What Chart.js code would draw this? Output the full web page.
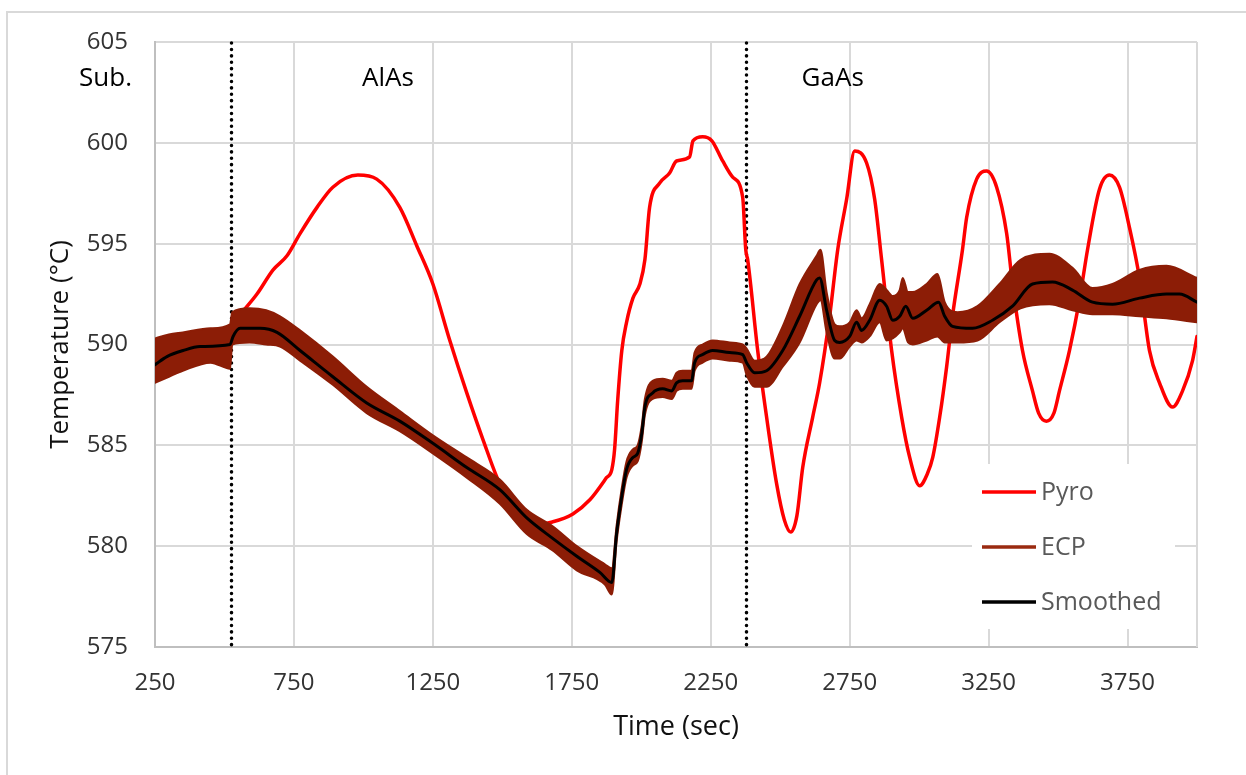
<!DOCTYPE html>
<html>
<head>
<meta charset="utf-8">
<title>Temperature vs time</title>
<script src="https://cdn.jsdelivr.net/npm/chart.js@4.4.1/dist/chart.umd.min.js"></script>
<style>
  html, body { margin: 0; padding: 0; background: #fff; }
  #wrap { position: relative; width: 1246px; height: 775px; }
</style>
</head>
<body>
<div id="wrap"><canvas id="chartTemp" width="1246" height="775"></canvas></div>
<script>
// ── data ──
const xTicks      = [250, 750, 1250, 1750, 2250, 2750, 3250, 3750];
const layerSwitch = [523, 2376];            // dotted lines (sec)
const layerNames  = ["Sub.", "AlAs", "GaAs"];

const pyroTime = [523, 570, 617, 675, 725, 772, 833, 890, 980, 1048, 1131, 1192, 1250, 1311, 1372,
  1430, 1491, 1527, 1580, 1640, 1680, 1754, 1815, 1875, 1894, 1904, 1915, 1930, 1947, 1970, 1995,
  2013, 2030, 2066, 2102, 2127, 2174, 2186, 2221, 2254, 2293, 2329, 2365, 2376, 2383, 2419, 2451,
  2487, 2515, 2538, 2560, 2581, 2617, 2642, 2678, 2707, 2739, 2768, 2811, 2840, 2865, 2901, 2937,
  2966, 3002, 3030, 3049, 3074, 3099, 3120, 3156, 3171, 3207, 3243, 3279, 3315, 3336, 3372, 3408,
  3430, 3458, 3485, 3505, 3541, 3577, 3606, 3649, 3685, 3721, 3757, 3793, 3829, 3865, 3912, 3948,
  3984, 4000];
const pyroTemp = [590.9, 591.7, 592.5, 593.7, 594.4, 595.5, 596.8, 597.8, 598.4, 598.2, 596.8, 594.9, 593.0, 590.2, 587.6,
  585.3, 583.1, 582.4, 581.6, 581.1, 581.2, 581.6, 582.3, 583.4, 583.8, 584.8, 587.2, 589.7, 591.1, 592.3, 593.0,
  594.2, 596.8, 598.0, 598.5, 599.1, 599.3, 600.1, 600.3, 600.1, 599.1, 598.3, 597.3, 594.7, 594.2, 589.7, 586.4,
  583.1, 581.3, 580.7, 581.5, 583.9, 586.4, 588.1, 591.4, 594.7, 597.2, 599.6, 599.0, 597.2, 594.2, 589.7, 586.4,
  584.4, 583.0, 583.6, 584.4, 586.4, 588.9, 591.4, 594.7, 596.3, 598.2, 598.6, 597.8, 595.5, 593.0, 589.7, 587.7,
  586.6, 586.2, 586.6, 587.7, 589.7, 592.2, 594.7, 597.7, 598.4, 597.8, 595.8, 593.3, 589.7, 588.1, 586.9, 587.7,
  589.2, 590.4];

const ecpTime = [250, 300, 350, 450, 520, 528, 590, 650, 700, 772, 890, 1012, 1131, 1250, 1372, 1491,
  1588, 1680, 1768, 1869, 1894, 1911, 1929, 1947, 1970, 1987, 2002, 2013, 2041, 2077, 2110, 2127,
  2149, 2181, 2192, 2221, 2257, 2318, 2365, 2379, 2408, 2451, 2509, 2570, 2631, 2645, 2667, 2696,
  2714, 2750, 2775, 2793, 2822, 2858, 2883, 2905, 2930, 2941, 2960, 2977, 3027, 3066, 3092, 3138,
  3210, 3289, 3365, 3469, 3552, 3624, 3696, 3793, 3890, 4000];
const ecpHigh = [590.3, 590.5, 590.6, 590.8, 591.0, 591.6, 591.8, 591.7, 591.4, 590.7, 589.4, 587.9, 586.7, 585.5, 584.4, 583.3,
  581.8, 581.0, 580.0, 579.1, 578.9, 581.0, 582.8, 584.2, 584.8, 585.0, 586.0, 587.3, 588.2, 588.3, 588.2, 588.6,
  588.7, 588.7, 589.6, 590.0, 590.2, 590.1, 590.0, 589.8, 589.2, 589.4, 590.9, 593.0, 594.4, 594.7, 592.6, 591.0,
  590.9, 591.1, 591.7, 591.3, 592.0, 593.0, 592.7, 592.4, 592.7, 593.3, 592.6, 592.6, 593.0, 593.5, 592.1, 591.6,
  591.9, 593.0, 594.2, 594.5, 593.8, 592.8, 593.0, 593.7, 593.9, 593.3];
const ecpLow = [588.1, 588.4, 588.7, 589.1, 588.8, 590.0, 590.1, 590.0, 589.9, 589.2, 588.0, 586.6, 585.7, 584.6, 583.4, 582.1,
  580.6, 579.8, 578.8, 578.1, 577.6, 580.2, 582.0, 583.4, 584.0, 584.2, 585.2, 586.5, 587.3, 587.4, 587.3, 587.7,
  587.8, 587.8, 588.7, 589.1, 589.3, 589.2, 589.1, 588.5, 587.9, 587.9, 588.9, 590.1, 592.0, 592.2, 590.6, 589.3,
  589.3, 589.9, 590.2, 590.1, 590.4, 591.1, 590.2, 590.3, 590.6, 590.8, 590.1, 590.0, 590.2, 590.4, 590.1, 590.1,
  590.2, 591.1, 591.8, 592.0, 591.7, 591.5, 591.5, 591.4, 591.3, 591.1];

const smoothTime = [250, 293, 351, 412, 520, 531, 556, 628, 689, 772, 890, 1012, 1131, 1250, 1372, 1491,
  1588, 1680, 1768, 1851, 1894, 1911, 1929, 1947, 1970, 1987, 2002, 2013, 2041, 2077, 2110, 2127,
  2149, 2181, 2192, 2221, 2257, 2318, 2365, 2379, 2408, 2451, 2509, 2570, 2631, 2642, 2667, 2696,
  2714, 2750, 2775, 2793, 2822, 2858, 2883, 2905, 2930, 2952, 2977, 3027, 3070, 3092, 3120, 3192,
  3264, 3336, 3408, 3480, 3552, 3624, 3696, 3793, 3890, 3937, 4000];
const smoothTemp = [589.0, 589.4, 589.7, 589.9, 590.0, 590.4, 590.8, 590.8, 590.6, 589.7, 588.4, 587.1, 586.2, 585.1, 583.9, 582.8,
  581.4, 580.4, 579.5, 578.7, 578.2, 580.6, 582.4, 583.8, 584.4, 584.6, 585.6, 586.9, 587.6, 587.8, 587.7, 588.1,
  588.2, 588.2, 589.1, 589.5, 589.7, 589.6, 589.5, 589.1, 588.6, 588.7, 589.7, 591.4, 593.2, 593.3, 591.7, 590.2,
  590.1, 590.4, 591.1, 590.7, 591.2, 592.2, 591.9, 591.2, 591.4, 591.9, 591.3, 591.7, 592.1, 591.4, 590.9, 590.8,
  591.2, 591.9, 593.0, 593.1, 592.7, 592.1, 592.0, 592.3, 592.5, 592.5, 592.1];

// ── styling ──
const FONT      = "'Open Sans', 'Noto Sans', sans-serif";
const RED       = "#ff0000";
const ECP_BROWN = "#8c1d06";
const GRID      = "#d9d9d9";

function pts(xs, ys) {
  return xs.map((x, i) => ({ x, y: ys[i] }));
}

// frame, dotted layer lines, layer names, right-hand grid edge, legend
const decorPlugin = {
  id: "decor",
  beforeDraw(chart) {
    const { ctx } = chart;
    ctx.save();
    ctx.strokeStyle = GRID;
    ctx.lineWidth = 2;
    ctx.beginPath();
    ctx.moveTo(7, 800); ctx.lineTo(7, 12); ctx.lineTo(1300, 12);
    ctx.stroke();
    ctx.restore();
  },
  beforeDatasetsDraw(chart) {
    const { ctx, chartArea: a, scales: { x, y } } = chart;
    ctx.save();
    // grid line on the right edge (4000 is not a tick)
    ctx.strokeStyle = GRID;
    ctx.lineWidth = 2;
    ctx.beginPath();
    ctx.moveTo(a.right, a.top); ctx.lineTo(a.right, a.bottom);
    ctx.stroke();

    // dotted boundaries
    ctx.strokeStyle = "#000";
    ctx.lineWidth = 3.5;
    ctx.lineCap = "round";
    ctx.setLineDash([0.1, 6.3]);
    layerSwitch.forEach(t => {
      const px = Math.round(x.getPixelForValue(t)) + 0.5;
      ctx.beginPath();
      ctx.moveTo(px, a.top + 1); ctx.lineTo(px, a.bottom - 1);
      ctx.stroke();
    });
    ctx.setLineDash([]);

    // layer names
    ctx.fillStyle = "#000";
    ctx.font = "26px " + FONT;
    ctx.textBaseline = "middle";
    const ly = y.getPixelForValue(603.2);
    ctx.textAlign = "right";
    ctx.fillText(layerNames[0], a.left - 23, ly);
    ctx.textAlign = "left";
    ctx.fillText(layerNames[1], x.getPixelForValue(995), ly);
    ctx.fillText(layerNames[2], x.getPixelForValue(2577), ly);
    ctx.restore();
  },
  afterDraw(chart) {
    // legend sitting inside the plot, bottom right
    const { ctx } = chart;
    const items = chart.data.datasets.filter(d => !d.hideInLegend);
    ctx.save();
    ctx.fillStyle = "#fff";
    ctx.fillRect(972, 464, 203, 165);
    ctx.font = "25px " + FONT;
    ctx.textBaseline = "middle";
    ctx.textAlign = "left";
    items.forEach((d, i) => {
      const ly = 492 + i * 55;
      ctx.strokeStyle = d.legendColor || d.borderColor;
      ctx.lineWidth = 3.5;
      ctx.beginPath();
      ctx.moveTo(982, ly); ctx.lineTo(1036, ly);
      ctx.stroke();
      ctx.fillStyle = "#595959";
      ctx.fillText(d.label, 1041, ly + 1);
    });
    ctx.restore();
  }
};

const chart = new Chart(document.getElementById("chartTemp"), {
  type: "line",
  data: {
    datasets: [
      {
        label: "Pyro",
        data: pts(pyroTime, pyroTemp),
        borderColor: RED,
        borderWidth: 3.5,
        order: 2
      },
      {
        label: "ECP",
        data: pts(ecpTime, ecpHigh),
        borderColor: ECP_BROWN,
        backgroundColor: ECP_BROWN,
        legendColor: "#9a2a10",
        borderWidth: 2,
        fill: "+1",
        order: 1
      },
      {
        label: "ECP low",
        hideInLegend: true,
        data: pts(ecpTime, ecpLow),
        borderColor: ECP_BROWN,
        borderWidth: 2,
        fill: false,
        order: 1
      },
      {
        label: "Smoothed",
        data: pts(smoothTime, smoothTemp),
        borderColor: "#000",
        borderWidth: 3,
        order: 0
      }
    ]
  },
  options: {
    responsive: false,
    animation: false,
    layout: { padding: { top: 42, right: 49, bottom: 0, left: 0 } },
    elements: {
      point: { radius: 0 },
      line: { cubicInterpolationMode: "monotone", borderJoinStyle: "round", borderCapStyle: "round" }
    },
    plugins: {
      legend: { display: false },
      tooltip: { enabled: false }
    },
    scales: {
      x: {
        type: "linear",
        min: 250,
        max: 4000,
        afterBuildTicks: s => { s.ticks = xTicks.map(v => ({ value: v })); },
        afterFit: s => { s.height = 128; },
        grid: { color: GRID, lineWidth: 2, drawTicks: false },
        border: { color: "#bfbfbf", width: 2 },
        ticks: {
          color: "#333", font: { family: FONT, size: 24 }, padding: 22,
          maxRotation: 0, autoSkip: false, callback: v => String(v)
        },
        title: { display: true, text: "Time (sec)", color: "#111", font: { family: FONT, size: 27 }, padding: { bottom: 31 } }
      },
      y: {
        min: 575,
        max: 605,
        afterFit: s => { s.width = 155; },
        grid: { color: GRID, lineWidth: 2, drawTicks: false },
        border: { color: "#bfbfbf", width: 2 },
        ticks: { stepSize: 5, color: "#333", font: { family: FONT, size: 24 }, padding: 27, callback: v => String(v) },
        title: { display: true, text: "Temperature (°C)", color: "#111", font: { family: FONT, size: 26 }, padding: { top: 45 } }
      }
    }
  },
  plugins: [decorPlugin]
});
</script>
</body>
</html>
